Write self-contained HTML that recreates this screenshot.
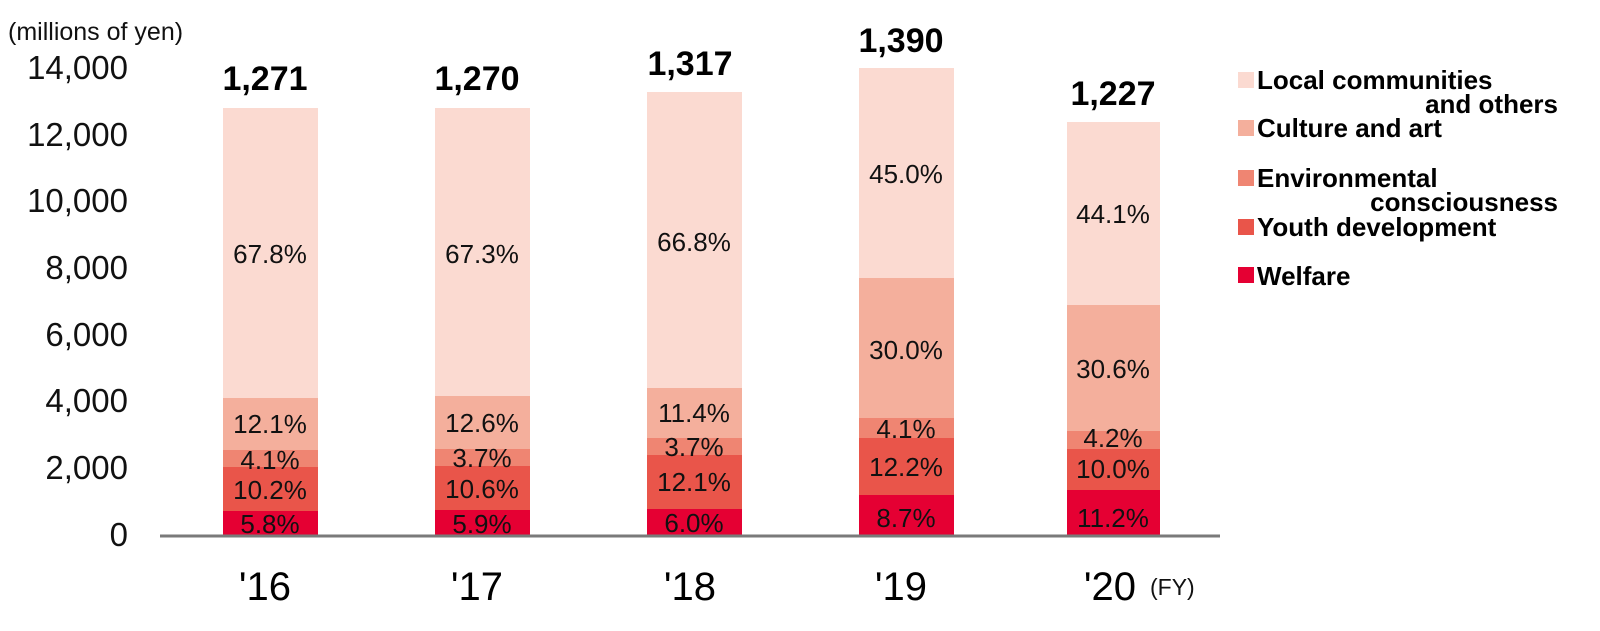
<!DOCTYPE html>
<html><head><meta charset="utf-8"><style>
html,body{margin:0;padding:0;background:#fff}
svg{display:block;font-family:"Liberation Sans","DejaVu Sans",sans-serif}
.t{font-size:33px;fill:#111}
.p{font-size:26px;fill:#111;text-anchor:middle}
.tot{font-size:34px;font-weight:bold;fill:#000;text-anchor:middle}
.yr{font-size:40px;fill:#000;text-anchor:middle}
.lg{font-size:26px;font-weight:bold;fill:#000}
</style></head><body>
<svg width="1600" height="631" viewBox="0 0 1600 631">
<text x="8" y="40" style="font-size:25px;fill:#111">(millions of yen)</text>
<g class="t" text-anchor="end">
<text x="128" y="79">14,000</text>
<text x="128" y="146">12,000</text>
<text x="128" y="212">10,000</text>
<text x="128" y="279">8,000</text>
<text x="128" y="346">6,000</text>
<text x="128" y="412">4,000</text>
<text x="128" y="479">2,000</text>
<text x="128" y="546">0</text>
</g>
<g>
<rect x="223" y="108" width="95" height="290" fill="#fbdad1"/>
<rect x="223" y="398" width="95" height="52" fill="#f4af9c"/>
<rect x="223" y="450" width="95" height="17" fill="#ef8572"/>
<rect x="223" y="467" width="95" height="44" fill="#e9554a"/>
<rect x="223" y="511" width="95" height="24" fill="#e50033"/>

<rect x="435" y="108" width="95" height="288" fill="#fbdad1"/>
<rect x="435" y="396" width="95" height="53" fill="#f4af9c"/>
<rect x="435" y="449" width="95" height="17" fill="#ef8572"/>
<rect x="435" y="466" width="95" height="44" fill="#e9554a"/>
<rect x="435" y="510" width="95" height="25" fill="#e50033"/>

<rect x="647" y="92" width="95" height="296" fill="#fbdad1"/>
<rect x="647" y="388" width="95" height="50" fill="#f4af9c"/>
<rect x="647" y="438" width="95" height="17" fill="#ef8572"/>
<rect x="647" y="455" width="95" height="54" fill="#e9554a"/>
<rect x="647" y="509" width="95" height="26" fill="#e50033"/>

<rect x="859" y="68" width="95" height="210" fill="#fbdad1"/>
<rect x="859" y="278" width="95" height="140" fill="#f4af9c"/>
<rect x="859" y="418" width="95" height="20" fill="#ef8572"/>
<rect x="859" y="438" width="95" height="57" fill="#e9554a"/>
<rect x="859" y="495" width="95" height="40" fill="#e50033"/>

<rect x="1067" y="122" width="93" height="183" fill="#fbdad1"/>
<rect x="1067" y="305" width="93" height="126" fill="#f4af9c"/>
<rect x="1067" y="431" width="93" height="18" fill="#ef8572"/>
<rect x="1067" y="449" width="93" height="41" fill="#e9554a"/>
<rect x="1067" y="490" width="93" height="45" fill="#e50033"/>
</g>
<line x1="160" y1="536" x2="1220" y2="536" stroke="#7a7a7a" stroke-width="3"/>
<g class="p">
<text x="270" y="263">67.8%</text><text x="270" y="433">12.1%</text><text x="270" y="469">4.1%</text><text x="270" y="499">10.2%</text><text x="270" y="533">5.8%</text>
<text x="482" y="263">67.3%</text><text x="482" y="432">12.6%</text><text x="482" y="467">3.7%</text><text x="482" y="498">10.6%</text><text x="482" y="533">5.9%</text>
<text x="694" y="251">66.8%</text><text x="694" y="422">11.4%</text><text x="694" y="456">3.7%</text><text x="694" y="491">12.1%</text><text x="694" y="532">6.0%</text>
<text x="906" y="183">45.0%</text><text x="906" y="359">30.0%</text><text x="906" y="438">4.1%</text><text x="906" y="476">12.2%</text><text x="906" y="527">8.7%</text>
<text x="1113" y="223">44.1%</text><text x="1113" y="378">30.6%</text><text x="1113" y="447">4.2%</text><text x="1113" y="478">10.0%</text><text x="1113" y="527">11.2%</text>
</g>
<g class="tot">
<text x="265" y="90">1,271</text>
<text x="477" y="90">1,270</text>
<text x="690" y="75">1,317</text>
<text x="901" y="52">1,390</text>
<text x="1113" y="105">1,227</text>
</g>
<g class="yr">
<text x="265" y="600">'16</text>
<text x="477" y="600">'17</text>
<text x="690" y="600">'18</text>
<text x="901" y="600">'19</text>
<text x="1110" y="600">'20</text>
</g>
<text x="1150" y="595" style="font-size:23px;fill:#111">(FY)</text>
<rect x="1238" y="72" width="16" height="16" fill="#fbdad1"/>
<text class="lg" x="1257" y="89">Local communities</text>
<text class="lg" x="1558" y="113" text-anchor="end">and others</text>
<rect x="1238" y="120" width="16" height="16" fill="#f4af9c"/>
<text class="lg" x="1257" y="137">Culture and art</text>
<rect x="1238" y="170" width="16" height="16" fill="#ef8572"/>
<text class="lg" x="1257" y="187">Environmental</text>
<text class="lg" x="1558" y="211" text-anchor="end">consciousness</text>
<rect x="1238" y="219" width="16" height="16" fill="#e9554a"/>
<text class="lg" x="1257" y="236">Youth development</text>
<rect x="1238" y="267" width="16" height="16" fill="#e50033"/>
<text class="lg" x="1257" y="285">Welfare</text>
</svg>
</body></html>
